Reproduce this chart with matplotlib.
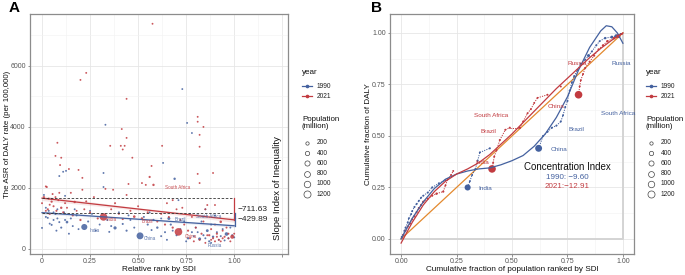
import numpy as np
import matplotlib
matplotlib.use("Agg")
import matplotlib.pyplot as plt
from matplotlib.lines import Line2D

plt.rcParams['font.family'] = ['Liberation Sans', 'DejaVu Sans']

BLUE = '#44619F'
RED = '#C23B40'
ORANGE = '#E3892E'

# ---------------- Panel A: SDI rank vs DALY rate ----------------
a90_x = [0.00, 0.01, 0.02, 0.03, 0.035, 0.04, 0.05, 0.05, 0.06, 0.07, 0.075, 0.08, 0.09, 0.09,
         0.10, 0.11, 0.115, 0.12, 0.125, 0.13, 0.14, 0.15, 0.16, 0.18, 0.19, 0.22, 0.24, 0.26,
         0.28, 0.30, 0.32, 0.32, 0.33, 0.34, 0.35, 0.36, 0.38, 0.40, 0.42, 0.44, 0.46, 0.48,
         0.51, 0.53, 0.55, 0.57, 0.58, 0.60, 0.62, 0.63, 0.64, 0.66, 0.67, 0.69, 0.70, 0.71,
         0.72, 0.73, 0.74, 0.755, 0.76, 0.77, 0.78, 0.78, 0.80, 0.82, 0.83, 0.84, 0.85, 0.86,
         0.87, 0.88, 0.89, 0.90, 0.91, 0.92, 0.94, 0.96, 0.97, 0.98, 0.99, 1.00,
         0.62, 0.65, 0.68, 0.75, 0.79, 0.81, 0.85, 0.88, 0.93, 0.95, 0.02, 0.06, 0.08, 0.12,
         0.17, 0.25, 0.45, 0.56]
a90_y = [690, 1770, 1050, 1020, 1250, 830, 1640, 790, 950, 1150, 600, 1300, 2390, 880,
         700, 2530, 1200, 1740, 2560, 880, 500, 1000, 750, 1100, 650, 720, 900, 1150,
         600, 800, 2490, 2030, 4070, 950, 560, 750, 690, 1200, 820, 600, 950, 700,
         430, 1050, 800, 620, 950, 700, 1000, 2820, 550, 1000, 800, 2300, 450, 1600,
         650, 5240, 900, 4130, 350, 1150, 3800, 550, 700, 330, 900, 450, 1300, 600,
         250, 800, 400, 1100, 550, 300, 650, 490, 350, 700, 450, 380,
         420, 300, 600, 250, 420, 550, 350, 200, 420, 280, 1350, 1200, 1000, 950,
         1300, 1250, 1100, 1200]
a90_pop = [5, 8, 15, 10, 12, 6, 5, 20, 8, 30, 10, 6, 4, 12,
           25, 3, 9, 4, 3, 95, 8, 14, 6, 10, 4, 870, 20, 7,
           12, 5, 3, 3, 1, 30, 10, 15, 180, 8, 20, 30, 6, 12,
           1150, 8, 25, 10, 40, 60, 5, 2, 15, 150, 30, 60, 20, 3,
           10, 1, 8, 1, 50, 10, 1, 15, 8, 148, 10, 20, 5, 120,
           30, 6, 60, 4, 10, 10, 8, 250, 15, 5, 20, 10,
           10, 8, 5, 6, 12, 6, 8, 5, 12, 6, 6, 10, 8, 10,
           6, 5, 8, 6]

a21_x = [0.00, 0.01, 0.02, 0.025, 0.03, 0.035, 0.04, 0.05, 0.055, 0.06, 0.07, 0.075, 0.08, 0.085,
         0.09, 0.094, 0.10, 0.10, 0.11, 0.12, 0.14, 0.15, 0.16, 0.17, 0.19, 0.20, 0.20, 0.21,
         0.21, 0.22, 0.23, 0.23, 0.25, 0.27, 0.29, 0.32, 0.33, 0.355, 0.36, 0.37, 0.38, 0.40,
         0.41, 0.415, 0.42, 0.42, 0.43, 0.44, 0.44, 0.44, 0.45, 0.46, 0.47, 0.48, 0.50, 0.52,
         0.52, 0.54, 0.55, 0.56, 0.57, 0.575, 0.58, 0.60, 0.62, 0.625, 0.64, 0.66, 0.68, 0.70,
         0.71, 0.72, 0.74, 0.76, 0.78, 0.80, 0.81, 0.81, 0.81, 0.82, 0.82, 0.82, 0.83, 0.84,
         0.84, 0.85, 0.86, 0.87, 0.88, 0.89, 0.89, 0.90, 0.90, 0.91, 0.92, 0.93, 0.94, 0.95,
         0.96, 0.97, 0.99, 1.00,
         0.77, 0.79, 0.82, 0.85, 0.86, 0.88, 0.90, 0.91, 0.93, 0.94, 0.97, 0.98, 0.65, 0.68,
         0.73, 0.02, 0.04, 0.07, 0.13, 0.18]
a21_y = [1500, 1700, 2050, 2030, 1300, 1650, 1150, 1550, 1800, 1400, 3050, 1250, 3480, 1600,
         1840, 2750, 2990, 1350, 1200, 1500, 2620, 1840, 1100, 1540, 2590, 950, 5540, 1940,
         2330, 1300, 5770, 1560, 1200, 1700, 1000, 1050, 1970, 3380, 1300, 1940, 1500, 1150,
         3380, 3930, 3260, 980, 3380, 4920, 3640, 1770, 2130, 1250, 2990, 1060, 1400, 1000,
         2160, 2100, 1200, 2360, 2720, 7380, 2100, 900, 1150, 3380, 800, 1050, 700, 1300,
         560, 950, 800, 600, 1050, 700, 2460, 4170, 4330, 3350, 2160, 3740, 500, 4000,
         900, 1300, 1440, 450, 650, 2490, 350, 1440, 800, 500, 300, 890, 600, 400,
         700, 350, 400, 500,
         350, 250, 300, 200, 450, 300, 250, 400, 250, 350, 500, 250, 1500, 1600,
         1350, 1250, 1450, 1700, 1350, 1250]
a21_pop = [10, 20, 8, 12, 25, 15, 30, 40, 10, 18, 3, 20, 2, 12,
           6, 5, 3, 60, 15, 8, 3, 6, 25, 60, 3, 40, 1, 4,
           4, 10, 1, 15, 20, 8, 30, 1400, 5, 2, 12, 3, 20, 10,
           2, 1, 2, 25, 1, 1, 1, 4, 3, 15, 2, 90, 8, 60,
           4, 5, 15, 35, 3, 1, 60, 20, 10, 2, 30, 8, 40, 5,
           1410, 20, 12, 30, 6, 20, 3, 1, 1, 2, 4, 1, 25, 1,
           10, 5, 6, 40, 15, 2, 20, 4, 10, 30, 15, 80, 10, 20,
           8, 15, 330, 10,
           8, 10, 15, 6, 12, 10, 8, 15, 6, 20, 12, 8, 5, 8,
           6, 8, 10, 6, 8, 6]

# regression lines (x = 0, 0.5, 1) and CI half-widths
reg_x = [0, 0.5, 1]
reg90_y = [1190, 975, 760]
reg21_y = [1665, 1309, 953]
band90 = [50, 25, 50]
band21 = [80, 40, 80]
sii_labels = ['\u2212711.63', '\u2212429.89']

a_labels = [('India', 0.25, 590, BLUE), ('India', 0.335, 960, RED), ('China', 0.53, 350, BLUE),
            ('China', 0.745, 400, RED), ('South Africa', 0.64, 2030, RED),
            ('South Africa', 0.80, 1080, BLUE), ('Brazil', 0.52, 900, RED),
            ('Brazil', 0.69, 960, BLUE), ('Russia', 0.86, 120, BLUE)]

# ---------------- Panel B: concentration curves ----------------
b90_x = [0.003, 0.01, 0.015, 0.02, 0.03, 0.035, 0.045, 0.05, 0.06, 0.07, 0.08, 0.09, 0.10,
         0.12, 0.14, 0.17, 0.20, 0.30, 0.31, 0.32, 0.335, 0.345, 0.355, 0.40, 0.62, 0.64,
         0.66, 0.68, 0.70, 0.72, 0.73, 0.74, 0.75, 0.76, 0.77, 0.78, 0.795, 0.81, 0.83,
         0.845, 0.86, 0.88, 0.895, 0.92, 0.95, 0.97, 0.99]
b90_y = [0.01, 0.02, 0.04, 0.055, 0.08, 0.10, 0.12, 0.135, 0.155, 0.17, 0.185, 0.20, 0.21,
         0.225, 0.25, 0.27, 0.285, 0.25, 0.28, 0.31, 0.34, 0.38, 0.42, 0.44, 0.44, 0.50,
         0.52, 0.54, 0.55, 0.57, 0.60, 0.64, 0.67, 0.72, 0.76, 0.79, 0.82, 0.85, 0.87,
         0.89, 0.91, 0.94, 0.96, 0.975, 0.98, 0.985, 0.995]
b90_pop = [5, 8, 10, 6, 12, 8, 10, 6, 12, 10, 8, 12, 6,
           10, 15, 8, 10, 870, 5, 8, 6, 10, 12, 25, 1150, 12,
           10, 20, 15, 10, 8, 12, 20, 8, 10, 12, 8, 15, 10,
           148, 12, 20, 10, 60, 120, 250, 20]

b21_x = [0.003, 0.01, 0.02, 0.03, 0.04, 0.05, 0.06, 0.07, 0.08, 0.09, 0.10, 0.12, 0.14,
         0.16, 0.19, 0.20, 0.21, 0.225, 0.235, 0.41, 0.415, 0.42, 0.43, 0.445, 0.47, 0.49,
         0.535, 0.55, 0.57, 0.585, 0.60, 0.615, 0.66, 0.72, 0.80, 0.805, 0.81, 0.82, 0.83,
         0.85, 0.87, 0.89, 0.91, 0.93, 0.96, 0.98, 0.995]
b21_y = [0.005, 0.02, 0.04, 0.06, 0.075, 0.095, 0.11, 0.13, 0.15, 0.165, 0.18, 0.195, 0.21,
         0.22, 0.23, 0.26, 0.29, 0.31, 0.33, 0.34, 0.37, 0.40, 0.43, 0.48, 0.53, 0.54,
         0.54, 0.57, 0.61, 0.63, 0.66, 0.685, 0.70, 0.74, 0.70, 0.74, 0.77, 0.80, 0.83,
         0.86, 0.89, 0.92, 0.94, 0.96, 0.975, 0.985, 0.995]
b21_pop = [10, 20, 15, 25, 30, 20, 40, 25, 30, 20, 60, 15, 25,
           60, 40, 5, 5, 3, 3, 1400, 10, 8, 10, 20, 15, 25,
           35, 10, 8, 6, 5, 4, 6, 8, 1410, 10, 8, 15, 20,
           30, 40, 20, 25, 60, 80, 330, 20]

# fitted curves
fit_x = [0, 0.05, 0.1, 0.15, 0.2, 0.25, 0.3, 0.35, 0.4, 0.45, 0.5, 0.55, 0.6, 0.65, 0.7,
         0.75, 0.8, 0.85, 0.9, 0.925, 0.95, 0.975, 1.0]
fit90_y = [0.0, 0.10, 0.18, 0.245, 0.29, 0.315, 0.33, 0.34, 0.345, 0.36, 0.38, 0.405, 0.45,
           0.51, 0.59, 0.69, 0.82, 0.93, 1.01, 1.035, 1.03, 1.0, 0.95]
fit21_y = [-0.02, 0.08, 0.165, 0.23, 0.28, 0.315, 0.34, 0.37, 0.41, 0.46, 0.51, 0.565, 0.62,
           0.675, 0.73, 0.78, 0.83, 0.88, 0.925, 0.945, 0.965, 0.983, 1.0]

b_labels = [('India', 0.35, 0.245, BLUE), ('India', 0.335, 0.37, RED), ('China', 0.675, 0.435, BLUE),
            ('Brazil', 0.755, 0.53, BLUE), ('Brazil', 0.36, 0.52, RED),
            ('South Africa', 0.33, 0.60, RED), ('China', 0.66, 0.645, RED),
            ('South Africa', 0.90, 0.61, BLUE), ('Russia', 0.75, 0.85, RED),
            ('Russia', 0.95, 0.85, BLUE)]

legend_pops = [200, 400, 600, 800, 1000, 1200]


def psize(pop):
    return 1.8 + 0.02 * np.asarray(pop, dtype=float)


def style_axes(ax):
    ax.set_facecolor('white')
    ax.grid(True, which='major', color='#E6E6E6', lw=0.6)
    ax.grid(True, which='minor', color='#F2F2F2', lw=0.4)
    ax.set_axisbelow(True)
    for sp in ax.spines.values():
        sp.set_color('#8C8C8C')
        sp.set_linewidth(0.9)
    ax.tick_params(which='major', length=1.8, width=0.5, color='#666666',
                   labelsize=5, labelcolor='#555555', pad=1.2)
    ax.tick_params(which='minor', length=0)


def dotted_links(ax, xs, ys, color):
    # join neighbouring points only (long jumps are not drawn)
    for i in range(len(xs) - 1):
        if abs(xs[i + 1] - xs[i]) < 0.05:
            ax.plot(xs[i:i + 2], ys[i:i + 2], ls=(0, (1.2, 1.2)), color=color, lw=0.7, zorder=2)


fig = plt.figure(figsize=(6.85, 2.75), dpi=100)
W, H = 685, 275

# ---------- A ----------
axA = fig.add_axes([30 / W, 21 / H, 258 / W, 240 / H])
style_axes(axA)
axA.fill_between(reg_x, np.array(reg21_y) - band21, np.array(reg21_y) + band21,
                 color=RED, alpha=0.12, lw=0, zorder=1)
axA.fill_between(reg_x, np.array(reg90_y) - band90, np.array(reg90_y) + band90,
                 color=BLUE, alpha=0.12, lw=0, zorder=1)
axA.scatter(a90_x, a90_y, s=psize(a90_pop), color=BLUE, alpha=0.85, lw=0, zorder=2)
axA.scatter(a21_x, a21_y, s=psize(a21_pop), color=RED, alpha=0.85, lw=0, zorder=2)
axA.plot(reg_x, reg21_y, color=RED, lw=0.9, zorder=3)
axA.plot(reg_x, reg90_y, color=BLUE, lw=0.9, zorder=3)
axA.plot([0, 1], [reg21_y[0]] * 2, ls=(0, (3, 2)), color='#333333', lw=0.6, zorder=3)
axA.plot([0, 1], [reg90_y[0]] * 2, ls=(0, (3, 2)), color='#333333', lw=0.6, zorder=3)
axA.plot([1, 1], [reg21_y[0], reg21_y[-1]], color=RED, lw=0.9, zorder=3)
axA.plot([1.003, 1.003], [reg90_y[0], reg90_y[-1]], color=BLUE, lw=0.9, zorder=3)
axA.text(1.02, 1290, sii_labels[0], fontsize=6, va='center', ha='left', color='#222222')
axA.text(1.02, 960, sii_labels[1], fontsize=6, va='center', ha='left', color='#222222')
axA.text(1.225, 2000, 'Slope Index of Inequality', rotation=90, fontsize=6.8,
         va='center', ha='center', color='#111111')
for name, x, y, c in a_labels:
    axA.text(x, y, name, fontsize=3.3, color=c, ha='left', va='center', alpha=0.9)

axA.set_xlim(-0.0625, 1.28)
axA.set_ylim(-165, 7700)
axA.set_xticks([0, 0.25, 0.5, 0.75, 1.0, 1.25])
axA.set_xticklabels(['0', '0.25', '0.50', '0.75', '1.00', ''])
axA.set_xticks(np.arange(0.125, 1.3, 0.25), minor=True)
axA.set_yticks([0, 2000, 4000, 6000])
axA.set_yticks([1000, 3000, 5000, 7000], minor=True)
axA.set_xlabel('Relative rank by SDI', fontsize=5.9, color='#111111')
axA.xaxis.set_label_coords(0.5, -0.052)
axA.set_ylabel('The ASR of DALY rate (per 100,000)', fontsize=5.7, color='#111111')
axA.yaxis.set_label_coords(-0.072, 0.5)

# ---------- B ----------
axB = fig.add_axes([390 / W, 21 / H, 244 / W, 240 / H])
style_axes(axB)
axB.plot([0, 1, 1], [0, 0, 1], color='#D4D4D4', lw=1.4, zorder=1)
axB.plot([0, 1], [0, 1], color=ORANGE, lw=0.9, zorder=2)
dotted_links(axB, b90_x, b90_y, BLUE)
dotted_links(axB, b21_x, b21_y, RED)
axB.scatter(b90_x, b90_y, s=psize(b90_pop), color=BLUE, lw=0, zorder=3)
axB.scatter(b21_x, b21_y, s=psize(b21_pop), color=RED, lw=0, zorder=3)
axB.plot(fit_x, fit90_y, color=BLUE, lw=0.9, zorder=3)
axB.plot(fit_x, fit21_y, color=RED, lw=0.9, zorder=3)
for name, x, y, c in b_labels:
    axB.text(x, y, name, fontsize=4.6, color=c, ha='left', va='center')
axB.text(0.75, 0.35, 'Concentration Index', fontsize=7, ha='center', va='center', color='#111111')
axB.text(0.75, 0.30, '1990: \u22129.60', fontsize=5.8, ha='center', va='center', color=BLUE)
axB.text(0.75, 0.255, '2021:\u221212.91', fontsize=5.8, ha='center', va='center', color=RED)

axB.set_xlim(-0.05, 1.05)
axB.set_ylim(-0.073, 1.092)
ticks = [0, 0.25, 0.5, 0.75, 1.0]
tlab = ['0.00', '0.25', '0.50', '0.75', '1.00']
axB.set_xticks(ticks)
axB.set_xticklabels(tlab)
axB.set_yticks(ticks)
axB.set_yticklabels(tlab)
axB.set_xticks(np.arange(0.125, 1.0, 0.25), minor=True)
axB.set_yticks(np.arange(0.125, 1.0, 0.25), minor=True)
axB.set_xlabel('Cumulative fraction of population ranked by SDI', fontsize=5.9, color='#111111')
axB.xaxis.set_label_coords(0.5, -0.052)
axB.set_ylabel('Cumulative fraction of DALY', fontsize=5.9, color='#111111')
axB.yaxis.set_label_coords(-0.075, 0.5)

# panel tags
fig.text(9 / W, 1 - 1 / H, 'A', fontsize=11, fontweight='bold', va='top', ha='left')
fig.text(371 / W, 1 - 1 / H, 'B', fontsize=11, fontweight='bold', va='top', ha='left')


# legends drawn by hand (ggplot style)
def draw_legend(x0):
    def fx(px):
        return px / W

    def fy(py):
        return 1 - py / H

    fig.text(fx(x0), fy(73), 'year', fontsize=5.8, va='center', ha='left', color='#111111')
    for py, col, lab in [(86, BLUE, '1990'), (96, RED, '2021')]:
        fig.add_artist(Line2D([fx(x0), fx(x0 + 10)], [fy(py), fy(py)], color=col, lw=0.9,
                              transform=fig.transFigure))
        fig.add_artist(Line2D([fx(x0 + 5)], [fy(py)], color=col, marker='o', ms=1.6, lw=0,
                              transform=fig.transFigure))
        fig.text(fx(x0 + 15), fy(py), lab, fontsize=4.8, va='center', ha='left', color='#222222')
    fig.text(fx(x0), fy(116), 'Population\n(million)', fontsize=5.7, va='top', ha='left',
             color='#111111', linespacing=1.0)
    for i, p in enumerate(legend_pops):
        py = 143 + i * 10.2
        fig.add_artist(Line2D([fx(x0 + 5)], [fy(py)], marker='o', ms=float(np.sqrt(psize(p))),
                              mfc='none', mec='#444444', mew=0.5, lw=0,
                              transform=fig.transFigure))
        fig.text(fx(x0 + 15), fy(py), str(p), fontsize=4.8, va='center', ha='left',
                 color='#222222')


draw_legend(302)
draw_legend(646)

fig.savefig('out.png', dpi=100, facecolor='white')
